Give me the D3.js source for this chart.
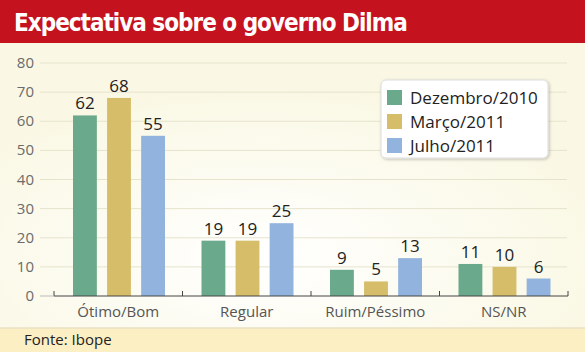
<!DOCTYPE html>
<html>
<head>
<meta charset="utf-8">
<script src="https://cdn.jsdelivr.net/npm/d3@7"></script>
<style>
  body { margin: 0; background: #faf8e4; }
  text { font-family: "Open Sans", "DejaVu Sans", sans-serif; }
</style>
</head>
<body>
<script>
var categories = ["Ótimo/Bom", "Regular", "Ruim/Péssimo", "NS/NR"];
var seriesNames = ["Dezembro/2010", "Março/2011", "Julho/2011"];
var dez2010 = [62, 19, 9, 11];
var mar2011 = [68, 19, 5, 10];
var jul2011 = [55, 25, 13, 6];
var yTicks = [0, 10, 20, 30, 40, 50, 60, 70, 80];
var colors = ["#6aa98b", "#d5bd6a", "#92b3de"];

var W = 585, H = 352;
var svg = d3.select("body").append("svg")
    .attr("width", W)
    .attr("height", H);

// background glow
var defs = svg.append("defs");
var grad = defs.append("radialGradient").attr("id", "glow")
    .attr("cx", "45%").attr("cy", "75%").attr("r", "60%");
grad.append("stop").attr("offset", "0%").attr("stop-color", "#ffffff");
grad.append("stop").attr("offset", "100%").attr("stop-color", "#faf8e4");
var shadow = defs.append("filter").attr("id", "shadow")
    .attr("x", "-10%").attr("y", "-10%").attr("width", "130%").attr("height", "130%");
shadow.append("feDropShadow").attr("dx", 1).attr("dy", 1).attr("stdDeviation", 1.5)
    .attr("flood-color", "#000").attr("flood-opacity", 0.25);

svg.append("rect").attr("width", W).attr("height", H).attr("fill", "#faf8e4");
svg.append("rect").attr("x", 0).attr("y", 43).attr("width", W).attr("height", 285)
    .attr("fill", "url(#glow)");

// title bar
svg.append("rect").attr("width", W).attr("height", 43).attr("fill", "#c5121f");
svg.append("text")
    .attr("x", 14).attr("y", 31)
    .attr("fill", "#fff")
    .style("font-family", "'DejaVu Sans Condensed', 'Liberation Sans Narrow', sans-serif")
    .style("font-weight", "bold")
    .style("font-size", "24px")
    .style("letter-spacing", "-1px")
    .text("Expectativa sobre o governo Dilma");

// footer
svg.append("rect").attr("x", 0).attr("y", 328).attr("width", W).attr("height", 24).attr("fill", "#fcefc4");
svg.append("line").attr("x1", 0).attr("x2", W).attr("y1", 328).attr("y2", 328)
    .attr("stroke", "#e8e0c4").attr("stroke-width", 1.5);
svg.append("text")
    .attr("x", 24).attr("y", 345)
    .attr("fill", "#222")
    .style("font-size", "15px")
    .text("Fonte: Ibope");

var x0 = d3.scaleBand().domain(categories).range([54, 568]);
var x1 = d3.scaleBand().domain(seriesNames).range([19, 111]).paddingInner(0.3);
var y = d3.scaleLinear().domain([0, 80]).range([296, 63]);

// grid
svg.append("g").selectAll("line")
    .data(yTicks.filter(function(d) { return d > 0; }))
    .enter().append("line")
    .attr("x1", 40).attr("x2", 567)
    .attr("y1", function(d) { return y(d); })
    .attr("y2", function(d) { return y(d); })
    .attr("stroke", "#e6e3cc").attr("stroke-width", 1);

// y labels
svg.append("g").selectAll("text")
    .data(yTicks)
    .enter().append("text")
    .attr("x", 34).attr("y", function(d) { return y(d) + 5; })
    .attr("text-anchor", "end")
    .attr("fill", "#6b6b6b")
    .style("font-size", "15px")
    .text(function(d) { return d; });

// bars
var table = categories.map(function(c, i) {
    return [dez2010[i], mar2011[i], jul2011[i]].map(function(v, j) {
        return {cat: c, name: seriesNames[j], value: v, color: colors[j]};
    });
});

var groups = svg.append("g").selectAll("g")
    .data(table)
    .enter().append("g")
    .attr("transform", function(d, i) { return "translate(" + x0(categories[i]) + ",0)"; });

groups.selectAll("rect")
    .data(function(d) { return d; })
    .enter().append("rect")
    .attr("x", function(d) { return x1(d.name); })
    .attr("width", x1.bandwidth())
    .attr("y", function(d) { return y(d.value); })
    .attr("height", function(d) { return y(0) - y(d.value); })
    .attr("fill", function(d) { return d.color; });

groups.selectAll("text")
    .data(function(d) { return d; })
    .enter().append("text")
    .attr("x", function(d) { return x1(d.name) + x1.bandwidth() / 2; })
    .attr("y", function(d) { return y(d.value) - 6; })
    .attr("text-anchor", "middle")
    .attr("fill", "#222")
    .style("font-size", "17px")
    .text(function(d) { return d.value; });

// x axis
var xAxis = svg.append("g")
    .attr("transform", "translate(0," + y(0) + ")")
    .call(d3.axisBottom(x0).tickSize(0).tickPadding(10));
xAxis.select(".domain").attr("stroke", "#444").attr("d", "M54,0H568");
xAxis.selectAll("text")
    .attr("fill", "#555")
    .style("font-size", "15px")
    .style("font-family", "'Open Sans', sans-serif");
svg.append("g").selectAll("line")
    .data(categories.concat(["end"]))
    .enter().append("line")
    .attr("x1", function(d, i) { return 54 + i * x0.step(); })
    .attr("x2", function(d, i) { return 54 + i * x0.step(); })
    .attr("y1", y(0) - 5).attr("y2", y(0))
    .attr("stroke", "#444");
svg.append("line").attr("x1", 40).attr("x2", 54).attr("y1", y(0)).attr("y2", y(0))
    .attr("stroke", "#bbb");

// legend
var legend = svg.append("g").attr("transform", "translate(381,80)");
legend.append("rect")
    .attr("width", 167).attr("height", 78).attr("rx", 5)
    .attr("fill", "#fff").attr("stroke", "#ddd")
    .attr("filter", "url(#shadow)");
var items = legend.selectAll("g.item")
    .data(seriesNames)
    .enter().append("g").attr("class", "item")
    .attr("transform", function(d, i) { return "translate(6," + (10 + i * 24) + ")"; });
items.append("rect")
    .attr("width", 15).attr("height", 15)
    .attr("fill", function(d, i) { return colors[i]; });
items.append("text")
    .attr("x", 23).attr("y", 14)
    .attr("fill", "#222")
    .style("font-size", "17px")
    .text(function(d) { return d; });
</script>
</body>
</html>
